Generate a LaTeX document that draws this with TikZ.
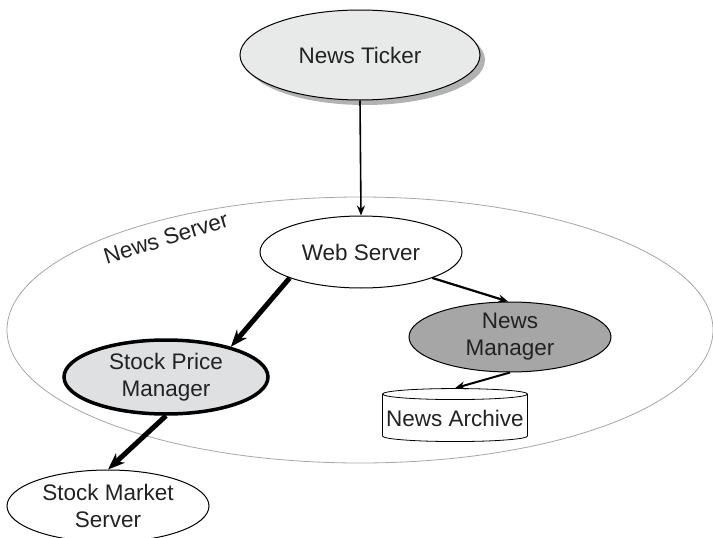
\documentclass[tikz,border=0pt]{standalone}
\usepackage{fontspec}
\setmainfont{Liberation Sans}
\usetikzlibrary{shapes.geometric, arrows.meta, shadows}
\definecolor{tickerfill}{HTML}{E8E9E9}
\definecolor{pricefill}{HTML}{DFE0E2}
\definecolor{managerfill}{HTML}{A6A6A6}
\definecolor{inkgray}{HTML}{222222}
\begin{document}
\begin{tikzpicture}[x=1pt, y=-1pt,
            part/.style={ellipse, draw=black, line width=1pt, inner sep=0pt, align=center,
                text=inkgray, font=\fontsize{22.5}{27}\selectfont},
            link/.style={-{Stealth[length=10pt, width=8pt]}, line width=1.6pt},
            heavylink/.style={-{Stealth[length=17pt, width=13pt]}, line width=5pt}]
            \useasboundingbox (0,0) rectangle (713,538);
            % the server that holds the parts
            \node[ellipse, draw=gray!70, line width=0.8pt, minimum width=706pt, minimum height=266pt,
                inner sep=0pt] (newsserver) at (360,330) {};
            \node[rotate=17, text=inkgray, font=\fontsize{22.5}{27}\selectfont] (serverlabel) at (166,238) {News Server};
            \node[part, fill=tickerfill, minimum width=240pt, minimum height=90pt,
                drop shadow={shadow xshift=5pt, shadow yshift=-5pt, fill=gray!60, opacity=1}] (ticker) at (360,55) {News Ticker};
            \node[part, fill=white, minimum width=202pt, minimum height=72pt] (web) at (361,252) {Web Server};
            \node[part, fill=pricefill, line width=3.5pt, minimum width=204pt, minimum height=74pt] (price) at (166,377) {Stock Price\\Manager};
            \node[part, fill=managerfill, minimum width=202pt, minimum height=70pt] (manager) at (510,337) {News\\Manager};
            \node[cylinder, shape border rotate=90, aspect=0.08, draw=black, line width=0.8pt, fill=white,
                minimum width=145pt, minimum height=53pt, inner sep=0pt, text=inkgray,
                font=\fontsize{22.5}{27}\selectfont] (archive) at (455,418) {News Archive};
            \node[part, fill=white, minimum width=202pt, minimum height=72pt] (market) at (108,506) {Stock Market\\Server};
            % requests
            \draw[link] (ticker.south) -- (web.north);
            \draw[heavylink] (web.200) -- (price.25);
            \draw[link, line width=2.2pt] (web.340) -- (manager.93);
            \draw[link, line width=2pt] (manager.south) -- (archive.north);
            \draw[heavylink] (price.south) -- (market.north);
\end{tikzpicture}
\end{document}
